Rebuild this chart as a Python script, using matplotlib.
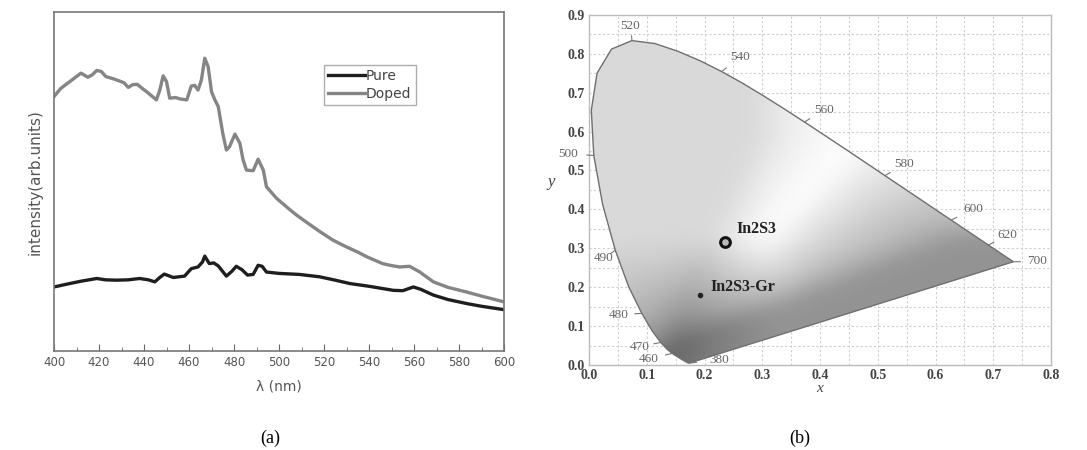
import numpy as np
import matplotlib.pyplot as plt
from matplotlib.path import Path
from matplotlib.patches import PathPatch

# ---- (a) PL spectra (arb. units, 0-100 = axis span)
wl_doped = [400, 403, 407, 410, 412, 415, 417, 419, 421, 423, 427, 431, 433, 435, 437,
            439, 441, 443, 445.5, 447, 448.5, 450, 451.4, 454, 456, 459, 461, 462.5, 464,
            465.5, 467, 468.5, 470, 471.5, 473, 475, 476.6, 478, 480.4, 482.6, 484,
            485.5, 488.5, 490.7, 493, 494.4, 497, 499, 502, 505, 508, 512, 518, 524,
            530, 535, 539, 546, 550, 553.7, 558, 562.6, 568.6, 575, 583.4, 590, 600]
int_doped = [75.1, 77.5, 79.5, 81.0, 82.0, 80.8, 81.5, 82.8, 82.5, 81.0, 80.2, 79.2,
             77.8, 78.6, 78.7, 77.6, 76.6, 75.5, 74.1, 77.0, 81.2, 79.5, 74.6, 74.8,
             74.4, 74.1, 78.2, 78.4, 77.0, 80.0, 86.4, 83.9, 76.5, 74.1, 72.1, 64.2,
             59.3, 60.3, 64.0, 61.3, 56.5, 53.4, 53.2, 56.6, 53.4, 48.5, 46.5, 45.0,
             43.3, 41.6, 40.0, 38.1, 35.3, 32.7, 30.7, 29.2, 27.8, 25.8, 25.2, 24.8,
             25.0, 23.3, 20.4, 18.8, 17.4, 16.2, 14.5]
wl_pure = [400, 405.5, 412, 419, 423, 427.7, 433, 438, 442, 444.8, 447, 449, 451,
           453, 458, 461, 464, 466, 467, 469, 471, 473, 476.6, 479, 481, 483.5, 486,
           488.5, 490.7, 492.5, 494.4, 500, 509, 518, 525, 531.5, 540, 550.8, 555,
           559.7, 563, 568.6, 575, 583.4, 590, 600]
int_pure = [18.9, 19.7, 20.6, 21.4, 21.0, 20.9, 21.0, 21.4, 21.0, 20.4, 21.7, 22.7,
            22.2, 21.7, 22.1, 24.3, 24.8, 26.3, 28.0, 25.8, 26.0, 25.1, 22.1, 23.5,
            25.0, 24.0, 22.4, 22.6, 25.3, 25.0, 23.3, 22.9, 22.6, 21.9, 20.9, 19.9,
            19.1, 17.9, 17.8, 18.9, 18.2, 16.5, 15.2, 14.0, 13.2, 12.2]

# ---- (b) CIE 1931 spectral locus
locus_nm = [380, 400, 420, 440, 450, 460, 465, 470, 475, 480, 485, 490, 495, 500,
            505, 510, 515, 520, 525, 530, 535, 540, 545, 550, 555, 560, 565, 570,
            575, 580, 585, 590, 595, 600, 610, 620, 630, 640, 650, 660, 680, 700]
locus_x = [0.1741, 0.1733, 0.1714, 0.1644, 0.1566, 0.1440, 0.1355, 0.1241, 0.1096,
           0.0913, 0.0687, 0.0454, 0.0235, 0.0082, 0.0039, 0.0139, 0.0389, 0.0743,
           0.1142, 0.1547, 0.1929, 0.2296, 0.2658, 0.3016, 0.3373, 0.3731, 0.4087,
           0.4441, 0.4788, 0.5125, 0.5448, 0.5752, 0.6029, 0.6270, 0.6658, 0.6915,
           0.7079, 0.7190, 0.7260, 0.7300, 0.7334, 0.7347]
locus_y = [0.0050, 0.0048, 0.0051, 0.0109, 0.0177, 0.0297, 0.0399, 0.0578, 0.0868,
           0.1327, 0.2007, 0.2950, 0.4127, 0.5384, 0.6548, 0.7502, 0.8120, 0.8338,
           0.8262, 0.8059, 0.7816, 0.7543, 0.7243, 0.6923, 0.6589, 0.6245, 0.5896,
           0.5547, 0.5202, 0.4866, 0.4544, 0.4242, 0.3965, 0.3725, 0.3340, 0.3083,
           0.2920, 0.2809, 0.2740, 0.2700, 0.2666, 0.2653]

label_nm = [520, 540, 560, 580, 600, 620, 700, 500, 490, 480, 470, 460, 380]
label_x = [0.072, 0.262, 0.407, 0.546, 0.665, 0.725, 0.775, -0.036, 0.026, 0.052,
           0.087, 0.104, 0.226]
label_y = [0.872, 0.791, 0.656, 0.517, 0.400, 0.334, 0.266, 0.543, 0.274, 0.129,
           0.047, 0.016, 0.012]

samples = ['In2S3', 'In2S3-Gr']
sample_x = [0.235, 0.192]
sample_y = [0.315, 0.180]
sample_lx = [0.255, 0.210]
sample_ly = [0.349, 0.201]

fig = plt.figure(figsize=(10.87, 4.5), dpi=100)

# ---------------- panel (a)
ax1 = fig.add_axes([0.0497, 0.22, 0.414, 0.753])
ax1.plot(wl_pure, int_pure, color='#1e1e1e', lw=2.4, label='Pure')
ax1.plot(wl_doped, int_doped, color='#858585', lw=2.4, label='Doped')
ax1.set_xlim(400, 600)
ax1.set_ylim(0, 100)
ax1.set_xticks(np.arange(400, 601, 20))
ax1.set_xticks(np.arange(410, 600, 20), minor=True)
ax1.set_yticks([])
ax1.tick_params(axis='x', which='both', direction='in', colors='#666666',
                labelsize=8.5, labelcolor='#555555')
ax1.tick_params(axis='x', which='major', length=5)
ax1.tick_params(axis='x', which='minor', length=3)
for s in ax1.spines.values():
    s.set_color('#777777')
    s.set_linewidth(1.2)
ax1.set_xlabel('λ (nm)', fontsize=10, color='#555555', labelpad=8)
ax1.set_ylabel('intensity(arb.units)', fontsize=11, color='#555555', labelpad=8)
leg = ax1.legend(loc='upper left', bbox_to_anchor=(0.585, 0.865), fontsize=10,
                 frameon=True, fancybox=False, handlelength=2.6, handletextpad=0.1,
                 borderpad=0.3, labelspacing=0.3, edgecolor='#999999')
for t in leg.get_texts():
    t.set_color('#444444')

# ---------------- panel (b)
ax2 = fig.add_axes([0.5419, 0.189, 0.425, 0.778])
ax2.set_xlim(0, 0.8)
ax2.set_ylim(0, 0.9)

# grayscale rendering of the chromaticity colours
gx, gy = np.meshgrid(np.linspace(0.001, 0.8, 400), np.linspace(0.001, 0.9, 450))
X = gx / gy
Z = (1 - gx - gy) / gy
M = np.array([[3.2406, -1.5372, -0.4986],
              [-0.9689, 1.8758, 0.0415],
              [0.0557, -0.2040, 1.0570]])
rgb = np.einsum('ij,jkl->ikl', M, np.stack([X, np.ones_like(X), Z]))
rgb = rgb - np.minimum(rgb.min(axis=0), 0)
rgb = rgb / rgb.max(axis=0)
rgb = np.where(rgb <= 0.0031308, 12.92 * rgb,
               1.055 * np.clip(rgb, 0, None) ** (1 / 2.4) - 0.055)
gray = (1 - 0.15 * (1 - rgb[0]) - 0.42 * (1 - rgb[1])
        - 0.12 * (1 - rgb[0]) * (1 - rgb[1]))

# soften the gamut creases
r = 30
k = np.exp(-0.5 * (np.arange(-r, r + 1) / 12.0) ** 2)
k /= k.sum()
g = np.pad(gray, r, mode='edge')
g = np.apply_along_axis(lambda v: np.convolve(v, k, mode='valid'), 0, g)
g = np.apply_along_axis(lambda v: np.convolve(v, k, mode='valid'), 1, g)
gray = g

for v in np.arange(0.05, 0.8, 0.05):
    ax2.axvline(v, color='#cfcfcf', lw=0.8, ls=(0, (2, 2)), zorder=0)
for v in np.arange(0.05, 0.9, 0.05):
    ax2.axhline(v, color='#cfcfcf', lw=0.8, ls=(0, (2, 2)), zorder=0)

poly = np.column_stack([locus_x + [locus_x[0]], locus_y + [locus_y[0]]])
patch = PathPatch(Path(poly), facecolor='none', edgecolor='#6f6f6f', lw=1.0, zorder=3)
ax2.add_patch(patch)
img = ax2.imshow(gray, extent=[0.001, 0.8, 0.001, 0.9], origin='lower', cmap='gray',
                 vmin=0, vmax=1, aspect='auto', zorder=1, interpolation='bilinear')
img.set_clip_path(patch)

for nm, lx, ly in zip(label_nm, label_x, label_y):
    i = locus_nm.index(nm)
    px, py = locus_x[i], locus_y[i]
    d = np.array([lx - px, ly - py])
    d = d / np.hypot(*d) * 0.012
    ax2.plot([px, px + d[0]], [py, py + d[1]], color='#777777', lw=0.8, zorder=4,
             clip_on=False)
    ax2.text(lx, ly, str(nm), fontsize=9.5, color='#666666', family='Liberation Serif',
             ha='center', va='center', zorder=5, clip_on=False)

ax2.plot(sample_x[0], sample_y[0], 'o', ms=7, mfc='#bbbbbb', mec='#111111', mew=2.2, zorder=6)
ax2.plot(sample_x[1], sample_y[1], 'o', ms=3, color='#222222', zorder=6)
for name, lx, ly in zip(samples, sample_lx, sample_ly):
    ax2.text(lx, ly, name, fontsize=11.5, fontweight='bold', family='Liberation Serif',
             color='#222222', ha='left', va='center', zorder=6)

ax2.set_xticks(np.arange(0, 0.81, 0.1))
ax2.set_yticks(np.arange(0, 0.91, 0.1))
ax2.set_xticklabels([f'{v:.1f}' for v in np.arange(0, 0.81, 0.1)])
ax2.set_yticklabels([f'{v:.1f}' for v in np.arange(0, 0.91, 0.1)])
ax2.tick_params(length=0, pad=3, labelsize=10, labelcolor='#444444')
for lab in ax2.get_xticklabels() + ax2.get_yticklabels():
    lab.set_family('Liberation Serif')
    lab.set_fontweight('bold')
for s in ax2.spines.values():
    s.set_color('#bbbbbb')
    s.set_linewidth(1.0)
ax2.set_xlabel('x', fontsize=11, style='italic', family='Liberation Serif',
               color='#444444', labelpad=0)
ax2.set_ylabel('y', fontsize=12, style='italic', family='Liberation Serif',
               color='#444444', rotation=0, labelpad=12)

fig.text(270 / 1087, 1 - 438 / 450, '(a)', fontsize=13, family='Liberation Serif',
         ha='center', va='center')
fig.text(800 / 1087, 1 - 438 / 450, '(b)', fontsize=13, family='Liberation Serif',
         ha='center', va='center')

fig.savefig('out.png', dpi=100)
